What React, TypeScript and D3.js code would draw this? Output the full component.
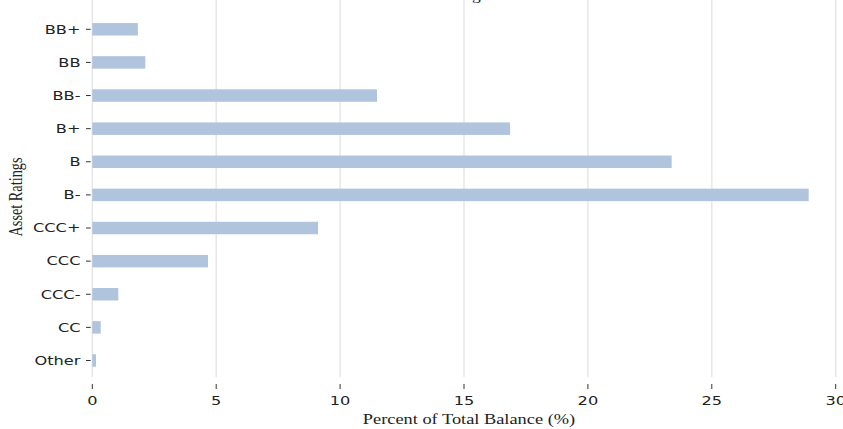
import React from "react";
import * as d3 from "d3";

const categories = ["BB+", "BB", "BB-", "B+", "B", "B-", "CCC+", "CCC", "CCC-", "CC", "Other"];
const values = [1.84, 2.14, 11.49, 16.86, 23.38, 28.91, 9.11, 4.67, 1.05, 0.34, 0.15];
const xTicks = [0, 5, 10, 15, 20, 25, 30];
const title = "Asset Ratings";
const xLabel = "Percent of Total Balance (%)";
const yLabel = "Asset Ratings";

const W = 843;
const H = 429;
const SX = 1.35;

export default function App() {
  const x = d3.scaleLinear().domain([0, 30]).range([92.3, 835.7]);
  const y = d3
    .scaleBand<string>()
    .domain(categories)
    .range([12.74, 377.06])
    .paddingInner(0.623)
    .paddingOuter(0.3115);
  const sans = "'DejaVu Sans', Verdana, sans-serif";
  const serif = "'Liberation Serif', 'Times New Roman', serif";
  return (
    <svg
      width={W}
      height={H}
      viewBox={`0 0 ${W} ${H}`}
      style={{ position: "absolute", left: 0, top: 0, background: "#fff", overflow: "hidden" }}
    >
      {/* title (mostly cut off at top, as in the reference) */}
      <text
        transform={`translate(390.6,0) scale(${SX},1)`}
        fontFamily={serif}
        fontSize={13}
        fill="#222"
      >
        {title}
      </text>
      {/* grid lines */}
      {xTicks.map((t) => (
        <line
          key={"g" + t}
          x1={x(t)}
          x2={x(t)}
          y1={-5}
          y2={377}
          stroke="#e3e3e3"
          strokeWidth={1.3}
        />
      ))}
      {/* bars */}
      {categories.map((c, i) => (
        <rect
          key={c}
          x={x(0)}
          y={y(c)}
          width={x(values[i]) - x(0)}
          height={y.bandwidth()}
          fill="#b0c4de"
        />
      ))}
      {/* y ticks */}
      {categories.map((c) => {
        const cy = (y(c) as number) + y.bandwidth() / 2;
        return (
          <g key={"yt" + c}>
            <line x1={86} x2={90.7} y1={cy} y2={cy} stroke="#333" strokeWidth={1} />
            <text
              transform={`translate(80.5,${cy}) scale(${SX},1)`}
              textAnchor="end"
              dy="0.36em"
              fontFamily={sans}
              fontSize={12}
              fill="#222"
            >
              {c}
            </text>
          </g>
        );
      })}
      {/* x ticks */}
      {xTicks.map((t) => (
        <g key={"xt" + t}>
          <line x1={x(t)} x2={x(t)} y1={384} y2={389} stroke="#333" strokeWidth={1} />
          <text
            transform={`translate(${x(t)},404.5) scale(${SX},1)`}
            textAnchor="middle"
            fontFamily={sans}
            fontSize={12}
            fill="#222"
          >
            {t}
          </text>
        </g>
      ))}
      {/* axis labels */}
      <text
        transform={`translate(469,424) scale(${SX},1)`}
        textAnchor="middle"
        fontFamily={serif}
        fontSize={13.6}
        fill="#222"
      >
        {xLabel}
      </text>
      <text
        transform={`translate(22,197) scale(${SX},1) rotate(-90)`}
        textAnchor="middle"
        fontFamily={serif}
        fontSize={14.3}
        fill="#222"
      >
        {yLabel}
      </text>
    </svg>
  );
}
